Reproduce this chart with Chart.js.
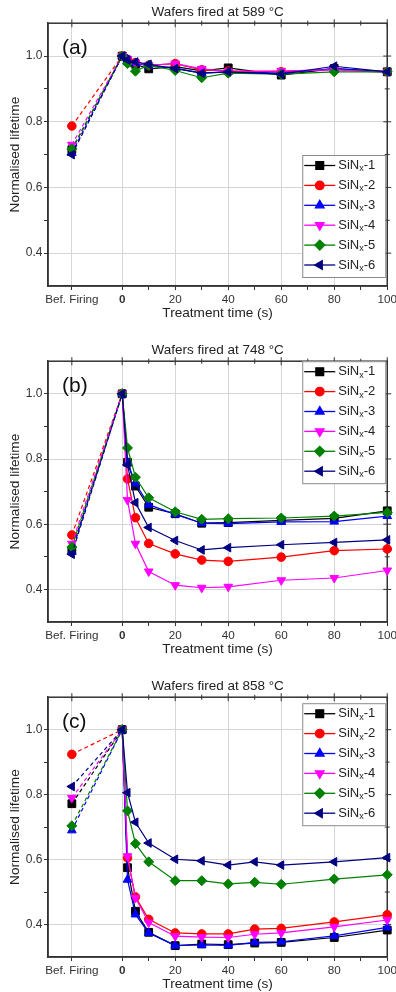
<!DOCTYPE html>
<html>
<head>
<meta charset="utf-8">
<script src="https://cdn.jsdelivr.net/npm/chart.js@4.4.1/dist/chart.umd.min.js"></script>
<style>
html, body { margin: 0; padding: 0; background: #fff; overflow: hidden; }
body { width: 396px; height: 992px; position: relative; }
canvas { position: absolute; left: 0; }
</style>
</head>
<body>
<canvas id="chartA"></canvas>
<canvas id="chartB"></canvas>
<canvas id="chartC"></canvas>
<script>
// x position used for the "Bef. Firing" category
const BEF = -19;

const seriesNames = ['SiNx-1', 'SiNx-2', 'SiNx-3', 'SiNx-4', 'SiNx-5', 'SiNx-6'];

const xTicks = [BEF, 0, 10, 20, 30, 40, 50, 60, 70, 80, 90, 100];
const yTicks = [0.4, 0.5, 0.6, 0.7, 0.8, 0.9, 1.0];

// panel (a) - 589 °C
const timesA = [BEF, 0, 2, 5, 10, 20, 30, 40, 60, 80, 100];
const a1 = [0.715, 1.0, 0.985, 0.975, 0.961, 0.968, 0.955, 0.964, 0.942, 0.962, 0.952];
const a2 = [0.787, 1.0, 0.99, 0.98, 0.972, 0.977, 0.958, 0.955, 0.952, 0.96, 0.952];
const a3 = [0.705, 1.0, 0.99, 0.978, 0.97, 0.963, 0.948, 0.952, 0.948, 0.962, 0.953];
const a4 = [0.73, 1.0, 0.99, 0.98, 0.972, 0.977, 0.961, 0.953, 0.955, 0.958, 0.95];
const a5 = [0.717, 1.0, 0.977, 0.954, 0.972, 0.956, 0.934, 0.948, 0.945, 0.952, 0.952];
const a6 = [0.70, 1.0, 0.988, 0.982, 0.975, 0.962, 0.948, 0.952, 0.945, 0.969, 0.952];

// panel (b) - 748 °C
const timesB = [BEF, 0, 2, 5, 10, 20, 30, 40, 60, 80, 100];
const b1 = [0.52, 1.0, 0.79, 0.717, 0.652, 0.632, 0.603, 0.605, 0.612, 0.618, 0.641];
const b2 = [0.567, 1.0, 0.739, 0.62, 0.541, 0.509, 0.49, 0.486, 0.499, 0.519, 0.524];
const b3 = [0.515, 1.0, 0.79, 0.725, 0.66, 0.63, 0.603, 0.602, 0.607, 0.608, 0.625];
const b4 = [0.54, 1.0, 0.674, 0.54, 0.455, 0.413, 0.405, 0.408, 0.428, 0.435, 0.458];
const b5 = [0.53, 1.0, 0.834, 0.744, 0.681, 0.638, 0.615, 0.617, 0.619, 0.625, 0.636];
const b6 = [0.508, 1.0, 0.782, 0.666, 0.59, 0.55, 0.521, 0.528, 0.537, 0.544, 0.552];

// panel (c) - 858 °C
const timesC = [BEF, 0, 2, 5, 10, 20, 30, 40, 50, 60, 80, 100];
const c1 = [0.772, 1.0, 0.575, 0.441, 0.376, 0.335, 0.34, 0.338, 0.343, 0.345, 0.36, 0.383];
const c2 = [0.924, 1.0, 0.605, 0.485, 0.416, 0.374, 0.371, 0.371, 0.386, 0.388, 0.408, 0.43];
const c3 = [0.69, 1.0, 0.538, 0.431, 0.374, 0.335, 0.337, 0.336, 0.345, 0.347, 0.365, 0.391];
const c4 = [0.79, 1.0, 0.61, 0.482, 0.406, 0.364, 0.361, 0.36, 0.37, 0.374, 0.393, 0.414];
const c5 = [0.704, 1.0, 0.75, 0.649, 0.593, 0.535, 0.535, 0.525, 0.53, 0.524, 0.54, 0.553];
const c6 = [0.825, 1.0, 0.806, 0.715, 0.651, 0.601, 0.596, 0.583, 0.593, 0.583, 0.593, 0.606];

const FONT = "'Liberation Sans', Arial, sans-serif";
const seriesColors = ['#000000', '#ff0000', '#0000ff', '#ff00ff', '#008000', '#000080'];
const markerStyles = ['rect', 'circle', 'triangle', 'triangle', 'rectRot', 'triangle'];
const markerRotation = [0, 0, 0, 180, 0, 270];
const markerSizes = [5.5, 4.3, 5, 5, 5, 5];

const panels = [
    { id: 'chartA', top: 0, height: 321, title: 'Wafers fired at 589 °C', tag: '(a)',
      times: timesA, values: [a1, a2, a3, a4, a5, a6], legend: { bottom: 9 } },
    { id: 'chartB', top: 338, height: 319, title: 'Wafers fired at 748 °C', tag: '(b)',
      times: timesB, values: [b1, b2, b3, b4, b5, b6], legend: { top: 0 } },
    { id: 'chartC', top: 674, height: 318, title: 'Wafers fired at 858 °C', tag: '(c)',
      times: timesC, values: [c1, c2, c3, c4, c5, c6], legend: { top: 6 } }
];

const isMajorX = v => v === BEF || v % 20 === 0;
const isMajorY = v => Math.round(v * 10) % 2 === 0;

function drawMarker(ctx, style, rotation, x, y, r) {
    if (Chart.helpers && Chart.helpers.drawPoint) {
        Chart.helpers.drawPoint(ctx, { pointStyle: style, rotation: rotation, radius: r, borderWidth: 1 }, x, y);
        return;
    }
    ctx.beginPath();
    ctx.arc(x, y, r, 0, Math.PI * 2);
    ctx.fill();
}

// origin-like frame with mirrored ticks on top/right
const framePlugin = {
    id: 'frame',
    beforeDatasetsDraw(chart) {
        const { ctx, chartArea: a, scales } = chart;
        ctx.save();
        ctx.strokeStyle = '#333';
        ctx.lineWidth = 1.5;
        ctx.strokeRect(a.left, a.top, a.right - a.left, a.bottom - a.top);
        ctx.lineWidth = 1;
        ctx.beginPath();
        scales.x.ticks.forEach(t => {
            const px = scales.x.getPixelForValue(t.value);
            const len = isMajorX(t.value) ? 4 : 2.5;
            ctx.moveTo(px, a.top - len);
            ctx.lineTo(px, a.top + len);
        });
        scales.y.ticks.forEach(t => {
            const py = scales.y.getPixelForValue(t.value);
            const len = isMajorY(t.value) ? 4 : 2.5;
            ctx.moveTo(a.right - len, py);
            ctx.lineTo(a.right + len, py);
        });
        ctx.stroke();
        ctx.restore();
    }
};

// panel tag and boxed legend with subscript x
const overlayPlugin = {
    id: 'overlay',
    afterDatasetsDraw(chart, args, opts) {
        const { ctx, chartArea: a } = chart;
        ctx.save();
        ctx.fillStyle = '#111';
        ctx.font = '21px ' + FONT;
        ctx.textAlign = 'left';
        ctx.textBaseline = 'middle';
        ctx.fillText(opts.tag, a.left + 14, a.top + 25);

        const w = 83, h = 122, rowH = 19.9;
        const x0 = a.right - 2 - w;
        const y0 = opts.legend.bottom !== undefined ? a.bottom - opts.legend.bottom - h : a.top + opts.legend.top;
        ctx.fillStyle = '#fff';
        ctx.fillRect(x0, y0, w, h);
        ctx.strokeStyle = '#8a8a8a';
        ctx.lineWidth = 1;
        ctx.strokeRect(x0 + 0.5, y0 + 0.5, w, h);

        chart.data.datasets.forEach((ds, i) => {
            const y = y0 + 10.5 + i * rowH;
            ctx.strokeStyle = ds.borderColor;
            ctx.lineWidth = 1.3;
            ctx.beginPath();
            ctx.moveTo(x0 + 2, y);
            ctx.lineTo(x0 + 33, y);
            ctx.stroke();
            ctx.fillStyle = ds.backgroundColor;
            drawMarker(ctx, ds.pointStyle, ds.pointRotation, x0 + 17.5, y, ds.pointRadius);

            let tx = x0 + 36;
            ctx.fillStyle = '#222';
            ctx.font = '13px ' + FONT;
            ctx.fillText('SiN', tx, y);
            tx += ctx.measureText('SiN').width;
            ctx.font = '9px ' + FONT;
            ctx.fillText('x', tx, y + 3.5);
            tx += ctx.measureText('x').width;
            ctx.font = '13px ' + FONT;
            ctx.fillText(ds.label.slice(4), tx, y);
        });
        ctx.restore();
    }
};

function makeChart(panel) {
    const canvas = document.getElementById(panel.id);
    canvas.width = 400;
    canvas.height = panel.height;
    canvas.style.width = '400px';
    canvas.style.height = panel.height + 'px';
    canvas.style.top = panel.top + 'px';

    const datasets = seriesNames.map((name, i) => ({
        label: name,
        data: panel.times.map((t, j) => ({ x: t, y: panel.values[i][j] })),
        borderColor: seriesColors[i],
        backgroundColor: seriesColors[i],
        pointStyle: markerStyles[i],
        pointRotation: markerRotation[i],
        pointRadius: markerSizes[i],
        pointHoverRadius: markerSizes[i],
        pointBorderWidth: 1,
        borderWidth: 1.2,
        order: seriesNames.length - i,
        clip: false,
        segment: {
            borderDash: c => c.p0.parsed.x < 0 ? [4, 3] : undefined
        }
    }));

    return new Chart(canvas.getContext('2d'), {
        type: 'line',
        data: { datasets },
        options: {
            responsive: false,
            animation: false,
            events: [],
            layout: { padding: { left: 0, right: 12, top: 0, bottom: 0 } },
            scales: {
                x: {
                    type: 'linear',
                    min: -28,
                    max: 100,
                    afterBuildTicks: s => { s.ticks = xTicks.map(v => ({ value: v })); },
                    afterFit: s => { s.height = 35; },
                    ticks: {
                        autoSkip: false,
                        maxRotation: 0,
                        padding: 3,
                        color: '#333',
                        font: c => ({ family: FONT, size: 11.7, weight: c.tick && c.tick.value === 0 ? 'bold' : 'normal' }),
                        callback: v => v === BEF ? 'Bef. Firing' : (v % 20 === 0 ? String(v) : '')
                    },
                    grid: {
                        color: c => c.tick && isMajorX(c.tick.value) ? '#d6d6d6' : 'rgba(0,0,0,0)',
                        tickColor: '#333',
                        tickLength: 4
                    },
                    border: { color: '#333', width: 1.5 },
                    title: {
                        display: true,
                        text: 'Treatment time (s)',
                        color: '#222',
                        font: { family: FONT, size: 13.6 },
                        padding: { top: 0, bottom: 0 }
                    }
                },
                y: {
                    min: 0.3,
                    max: 1.1,
                    afterBuildTicks: s => { s.ticks = yTicks.map(v => ({ value: v })); },
                    afterFit: s => { s.width = 48; },
                    ticks: {
                        autoSkip: false,
                        padding: 1.5,
                        color: '#333',
                        font: { family: FONT, size: 12 },
                        callback: v => isMajorY(v) ? v.toFixed(1) : ''
                    },
                    grid: {
                        color: c => c.tick && isMajorY(c.tick.value) ? '#d6d6d6' : 'rgba(0,0,0,0)',
                        tickColor: '#333',
                        tickLength: 4
                    },
                    border: { color: '#333', width: 1.5 },
                    title: {
                        display: true,
                        text: 'Normalised lifetime',
                        color: '#222',
                        font: { family: FONT, size: 13.6 },
                        padding: { top: 7, bottom: 0 }
                    }
                }
            },
            plugins: {
                legend: { display: false },
                tooltip: { enabled: false },
                title: {
                    display: true,
                    text: panel.title,
                    fullSize: false,
                    color: '#222',
                    font: { family: FONT, size: 13.5, weight: 'normal' },
                    padding: { top: 4, bottom: 3 }
                },
                overlay: { tag: panel.tag, legend: panel.legend }
            }
        },
        plugins: [framePlugin, overlayPlugin]
    });
}

panels.forEach(makeChart);
</script>
</body>
</html>
